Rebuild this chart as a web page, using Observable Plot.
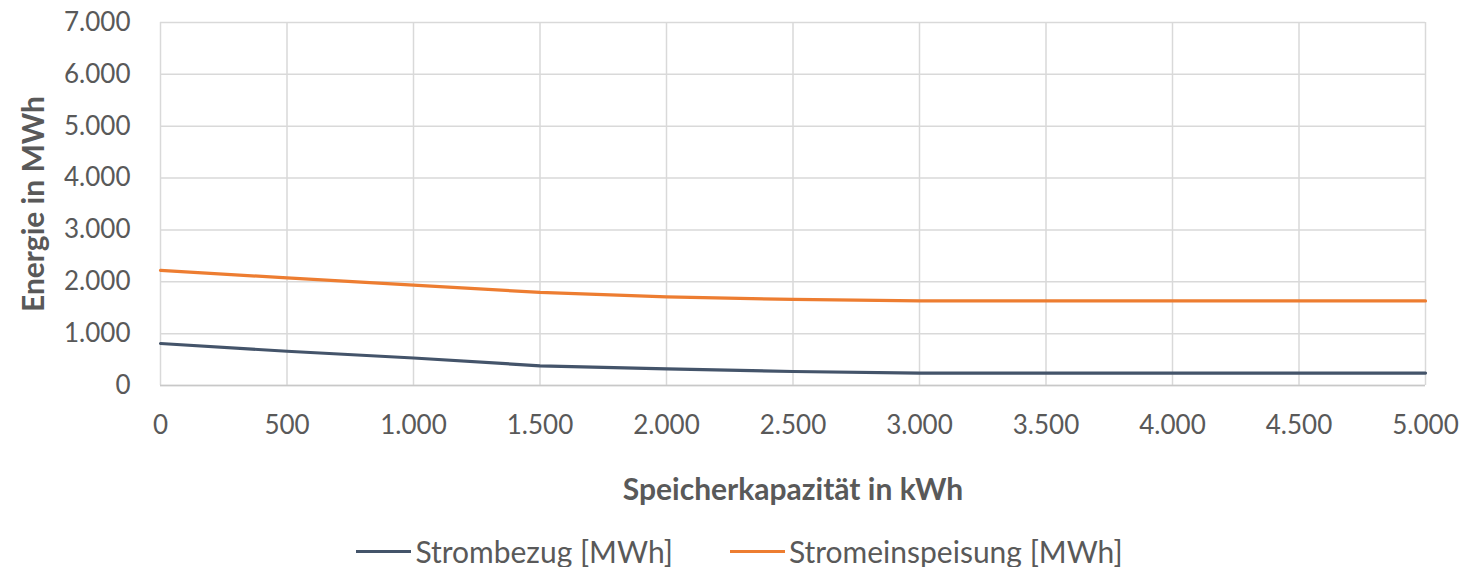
<!DOCTYPE html>
<html>
<head>
<meta charset="utf-8">
<script src="https://cdn.jsdelivr.net/npm/d3@7"></script>
<script src="https://cdn.jsdelivr.net/npm/@observablehq/plot@0.6"></script>
<style>
  body { margin: 0; background: #fff; font-family: Lato, "Open Sans", sans-serif; }
  #chart svg { display: block; }
  g[aria-label="x-axis label"] text, g[aria-label="y-axis label"] text { font-weight: bold; font-size: 30px; }
  .legend { display: flex; justify-content: center; gap: 57px; font-size: 30px; color: #595959; margin-top: 11px; padding-right: 4px; }
  .legend .item { display: flex; align-items: center; }
  .legend .swatch { width: 55px; height: 3px; margin-right: 4px; }
</style>
</head>
<body>
<div id="chart"></div>
<div class="legend" id="legend"></div>
<script>
// Speicherkapazität (kWh) und jährliche Energiemengen (MWh)
const kapazitaet = [0, 500, 1000, 1500, 2000, 2500, 3000, 3500, 4000, 4500, 5000];
const strombezug = [810, 660, 530, 380, 320, 270, 240, 240, 240, 240, 240];
const stromeinspeisung = [2220, 2075, 1935, 1795, 1710, 1660, 1630, 1630, 1630, 1630, 1630];
const serien = ["Strombezug [MWh]", "Stromeinspeisung [MWh]"];
const farben = ["#44546A", "#ED7D31"];
const xTicks = [0, 500, 1000, 1500, 2000, 2500, 3000, 3500, 4000, 4500, 5000];
const yTicks = [0, 1000, 2000, 3000, 4000, 5000, 6000, 7000];

const de = d3.formatLocale({decimal: ",", thousands: ".", grouping: [3], currency: ["", " €"]});
const fmt = de.format(",d");

const daten = [
  ...kapazitaet.map((k, i) => ({k, v: strombezug[i], s: serien[0]})),
  ...kapazitaet.map((k, i) => ({k, v: stromeinspeisung[i], s: serien[1]}))
];

const chart = Plot.plot({
  width: 1483,
  height: 522,
  marginLeft: 160,
  marginRight: 58,
  marginTop: 22,
  marginBottom: 137,
  style: {fontFamily: "Lato, 'Open Sans', sans-serif", fontSize: "26px", color: "#595959", background: "#fff"},
  x: {domain: [0, 5000]},
  y: {domain: [0, 7000]},
  color: {domain: serien, range: farben},
  marks: [
    Plot.gridX(xTicks, {stroke: "#d9d9d9", strokeOpacity: 1, strokeWidth: 1.5}),
    Plot.gridY(yTicks, {stroke: "#d9d9d9", strokeOpacity: 1, strokeWidth: 1.5}),
    Plot.ruleY([0], {stroke: "#c8c8c8", strokeWidth: 1.5}),
    Plot.axisX({ticks: xTicks, tickFormat: fmt, tickSize: 0, tickPadding: 30,
      label: "Speicherkapazität in kWh", labelAnchor: "center", labelArrow: "none", labelOffset: 114}),
    Plot.axisY({ticks: yTicks, tickFormat: fmt, tickSize: 0, tickPadding: 30,
      label: "Energie in MWh", labelAnchor: "center", labelArrow: "none", labelOffset: 138}),
    Plot.line(daten, {x: "k", y: "v", stroke: "s", strokeWidth: 3.2})
  ]
});
document.getElementById("chart").append(chart);

const legend = document.getElementById("legend");
serien.forEach((s, i) => {
  const item = document.createElement("div");
  item.className = "item";
  item.innerHTML = `<span class="swatch" style="background:${farben[i]}"></span><span>${s}</span>`;
  legend.append(item);
});
</script>
</body>
</html>
